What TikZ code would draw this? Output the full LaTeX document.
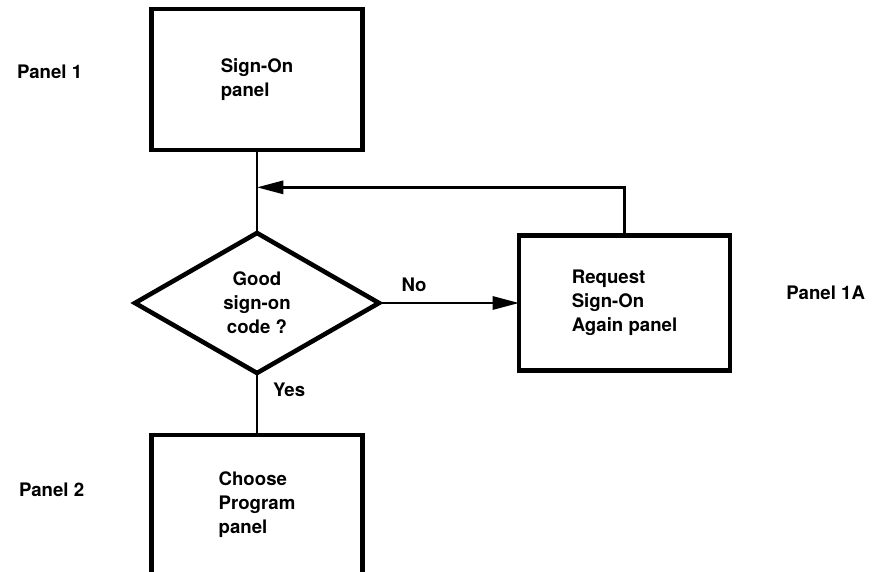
\documentclass[tikz,border=0pt]{standalone}
\usepackage{fontspec}
\setmainfont{TeX Gyre Heros}
\usepackage{tikz}
\usetikzlibrary{shapes.geometric, arrows.meta, positioning, calc}
\tikzset{
    panelbox/.style={rectangle, draw=black, line width=2.6pt, minimum width=4.22cm, minimum height=2.8cm, align=left, inner sep=0pt, outer sep=0pt, font=\fontsize{10.6}{13.7}\selectfont\bfseries},
    decision/.style={diamond, draw=black, line width=2.6pt, minimum width=4.88cm, minimum height=2.8cm, align=center, inner sep=0pt, outer sep=0pt, font=\fontsize{10.6}{13.7}\selectfont\bfseries},
    panellabel/.style={inner sep=0pt, font=\fontsize{10.6}{13.7}\selectfont\bfseries},
    edgelabel/.style={inner sep=0pt, font=\fontsize{10.6}{13.7}\selectfont\bfseries},
    line/.style={line width=1.4pt},
    arrow/.style={line width=1.4pt, -{Triangle[length=15pt, width=7.5pt]}}
}

\begin{document}
\begin{tikzpicture}
    \useasboundingbox (0,0) rectangle (17.52,11.42);
    \clip (0,0) rectangle (17.52,11.42);

    \node (signon) [panelbox, minimum height=2.82cm] at (5.14,9.83) {Sign-On\\panel};
    \node (check) [decision, below=1.66cm of signon] {Good\\sign-on\\code ?};
    \node (retry) [panelbox, minimum height=2.7cm, right=2.8cm of check] {Request\\Sign-On\\Again panel};
    \node (choose) [panelbox, minimum height=2.79cm, below=1.24cm of check] {Choose\\Program\\panel};

    \node (p1) [panellabel, left=1.38cm of signon, yshift=0.15cm] {Panel 1};
    \node (p1a) [panellabel, right=1.12cm of retry, yshift=0.2cm] {Panel 1A};
    \node (p2) [panellabel, left=1.34cm of choose, yshift=0.3cm] {Panel 2};

    \coordinate (merge) at ($(signon.south)!0.45!(check.north)$);

    \draw [line] (signon) -- (check);
    \draw [arrow] (retry.north) |- (merge);
    \draw [arrow] (check) -- node [edgelabel, above=0.2cm, pos=0.25] {No} (retry);
    \draw [line] (check) -- node [edgelabel, right=0.3cm, pos=0.27] {Yes} (choose);
\end{tikzpicture}
\end{document}
